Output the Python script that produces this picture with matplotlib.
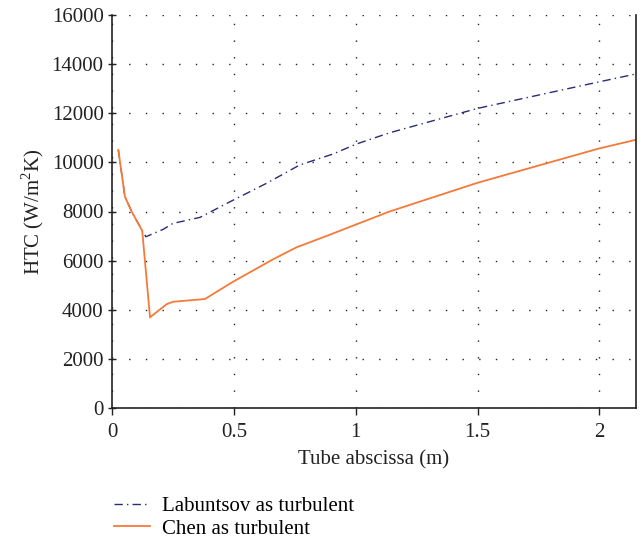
import matplotlib
matplotlib.use("Agg")
import matplotlib.pyplot as plt

plt.rcParams['font.family'] = ['Liberation Serif', 'DejaVu Serif']
plt.rcParams['mathtext.fontset'] = 'custom'
plt.rcParams['mathtext.rm'] = 'Liberation Serif'

x_lab = [0.026, 0.053, 0.081, 0.124, 0.139, 0.21, 0.25, 0.313, 0.361, 0.484, 0.634, 0.770, 0.907, 1.003, 1.139, 1.5, 2.0, 2.15]
y_lab = [10505, 8603, 7993, 7216, 6972, 7273, 7517, 7652, 7761, 8396, 9148, 9893, 10341, 10748, 11205, 12198, 13281, 13600]

x_chen = [0.026, 0.053, 0.081, 0.124, 0.156, 0.19, 0.225, 0.251, 0.381, 0.497, 0.661, 0.757, 0.880, 1.003, 1.139, 1.5, 2.0, 2.15]
y_chen = [10505, 8603, 7993, 7216, 3691, 3960, 4230, 4326, 4436, 5142, 6054, 6542, 7002, 7478, 8000, 9170, 10570, 10920]

xticks = [0, 0.5, 1, 1.5, 2]
xticklabels = ['0', '0.5', '1', '1.5', '2']
yticks = [0, 2000, 4000, 6000, 8000, 10000, 12000, 14000, 16000]

fig = plt.figure(figsize=(6.41, 5.41), dpi=100)
ax = fig.add_axes([112/641, 1-408/541, (636-112)/641, (408-15)/541])

l1, = ax.plot(x_lab, y_lab, color='#2a2a78', lw=1.0, linestyle=(0, (6, 3, 1, 3)), label='Labuntsov as turbulent')
l2, = ax.plot(x_chen, y_chen, color='#f47a3a', lw=1.3, label='Chen as turbulent')

ax.set_xlim(0, 2.15)
ax.set_ylim(0, 16000)
ax.set_xticks(xticks)
ax.set_xticklabels(xticklabels)
ax.set_yticks(yticks)
ax.tick_params(axis='both', labelsize=15, colors='#222222', width=1)
ax.tick_params(axis='y', direction='inout', length=6, pad=3)
ax.tick_params(axis='x', direction='out', length=5, pad=6)
ax.spines['top'].set_visible(False)
for s in ['left', 'bottom', 'right']:
    ax.spines[s].set_linewidth(1.2)
    ax.spines[s].set_color('#222222')
ax.grid(True, color='#222222', linestyle=(0, (1, 11)), linewidth=1.0)

ax.set_xlabel('Tube abscissa (m)', fontsize=15, labelpad=6, color='#222222')
ax.set_ylabel('HTC (W/m$^2$K)', fontsize=15, labelpad=4, color='#222222')

fig.legend(handles=[l1, l2], loc='upper left', bbox_to_anchor=(106/641, 1-488/541),
           frameon=False, fontsize=15, handlelength=1.7, labelspacing=0.15, handletextpad=0.6,
           borderaxespad=0)

fig.savefig('out.png', dpi=100)
